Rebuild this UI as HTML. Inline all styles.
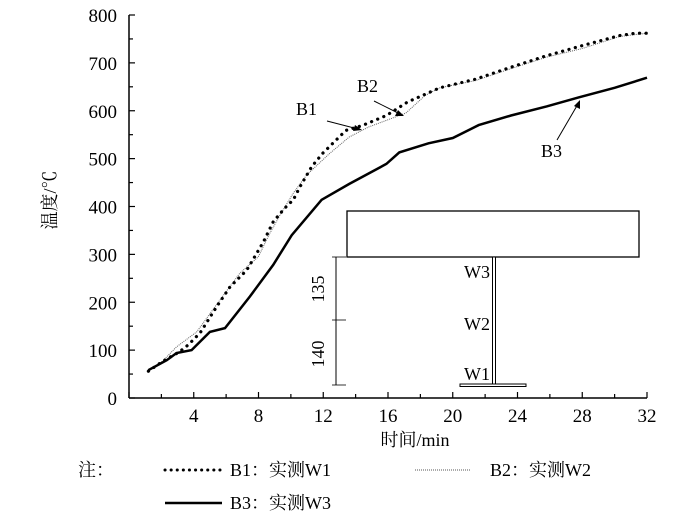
<!DOCTYPE html>
<html><head><meta charset="utf-8"><style>
body{margin:0;background:#fff}
svg text{font-family:"Liberation Serif","Noto Serif CJK SC",serif;fill:#000}
</style></head><body>
<svg width="700" height="523" viewBox="0 0 700 523">
<g id="axes"></g>
<g id="series"></g>
<g id="inset">
  <rect x="347" y="211" width="292" height="46" fill="#fff" stroke="#000" stroke-width="1.3"/>
  <rect x="492.5" y="257" width="3" height="127" fill="#fff" stroke="#000" stroke-width="1"/>
  <rect x="460" y="384" width="66" height="2.5" fill="#fff" stroke="#000" stroke-width="1"/>
  <line x1="336" y1="257" x2="336" y2="385" stroke="#000" stroke-width="1"/>
  <line x1="332" y1="257" x2="346" y2="257" stroke="#000" stroke-width="0.8"/>
  <line x1="332" y1="320" x2="346" y2="320" stroke="#000" stroke-width="0.8"/>
  <line x1="332" y1="385" x2="346" y2="385" stroke="#000" stroke-width="0.8"/>
  <text x="0" y="0" font-size="18" text-anchor="middle" transform="translate(324,289) rotate(-90)">135</text>
  <text x="0" y="0" font-size="18" text-anchor="middle" transform="translate(324,354) rotate(-90)">140</text>
  <text x="490" y="278" font-size="18" text-anchor="end">W3</text>
  <text x="490" y="330" font-size="18" text-anchor="end">W2</text>
  <text x="490" y="380" font-size="18" text-anchor="end">W1</text>
</g>
<g>
  <text x="296" y="115" font-size="18">B1</text>
  <line x1="327" y1="121" x2="358" y2="129" stroke="#000" stroke-width="1"/>
  <polygon points="362,130 353,131 355,125" fill="#000"/>
  <text x="357" y="92" font-size="18">B2</text>
  <line x1="374" y1="101" x2="400" y2="114" stroke="#000" stroke-width="1"/>
  <polygon points="404,116 395,116 398,110" fill="#000"/>
  <text x="541" y="157" font-size="18">B3</text>
  <line x1="557" y1="140" x2="578" y2="104" stroke="#000" stroke-width="1"/>
  <polygon points="580,100 580,109 574,106" fill="#000"/>
</g>
<g>
  <text x="78" y="476" font-size="18">注：</text>
  <line x1="165" y1="470" x2="222" y2="470" stroke="#000" stroke-width="3" stroke-dasharray="0.1 6" stroke-linecap="round"/>
  <text x="230" y="476" font-size="18">B1：实测W1</text>
  <line x1="415" y1="470" x2="470" y2="470" stroke="#555" stroke-width="1" stroke-dasharray="1 1"/>
  <text x="490" y="476" font-size="18">B2：实测W2</text>
  <line x1="165" y1="503" x2="222" y2="503" stroke="#000" stroke-width="2.5"/>
  <text x="230" y="509" font-size="18">B3：实测W3</text>
</g>
</svg>
<script>
const xTicks=[4,8,12,16,20,24,28,32];
const yTicks=[0,100,200,300,400,500,600,700,800];
const b1T=[1.2,2.1,3.1,3.66,4.39,5.42,6.24,7.27,8.3,8.91,9.64,10.15,10.56,11.28,11.96,13.4,14.4,15.9,17.2,19.2,21.4,23.6,25.8,28,30.3,31.3,32];
const b1V=[56,77,96,111,136,191,232,267,326,368,397,414,441,483,511,559,569,590,618,648,666,691,715,736,757,762,762];
const b2T=[1.2,2.1,2.94,4.18,5.62,6.86,7.99,8.7,9.33,10.15,10.98,12.4,13.6,14.8,17.1,18.3,19.2,21.4,23.6,25.8,28,30.3,32];
const b2V=[56,78,107,138,205,261,295,344,382,428,466,511,545,566,595,632,648,663,688,712,730,755,762];
const b3T=[1.19,2.33,2.94,3.87,5.0,5.93,7.47,8.91,10.05,11.9,13.6,15.9,16.7,18.5,20,21.6,23.6,25.8,27.8,30,32];
const b3V=[58,79,94,100,138,146,212,278,340,414,447,489,513,532,543,570,590,609,628,648,669];
const NS='http://www.w3.org/2000/svg';
const X0=129,X1=647,Y0=398,Y1=15;
function sx(t){return X0+(t/32)*(X1-X0);}
function sy(v){return Y0-(v/800)*(Y0-Y1);}
function mk(tag,attrs,parent){const e=document.createElementNS(NS,tag);for(const k in attrs)e.setAttribute(k,attrs[k]);parent.appendChild(e);return e;}
const ax=document.getElementById('axes');
let l=mk('line',{x1:X0,y1:Y0,x2:X1,y2:Y0,stroke:'#000','stroke-width':1.5},ax);


l=mk('line',{x1:X0,y1:Y0,x2:X0,y2:Y1,stroke:'#000','stroke-width':1.5},ax);


for(let t=0;t<=32;t+=2){mk('line',{x1:sx(t),y1:Y0,x2:sx(t),y2:Y0-(t%4==0?6:4),stroke:'#000','stroke-width':1.2},ax);}
for(let v=0;v<=800;v+=50){mk('line',{x1:X0,y1:sy(v),x2:X0+(v%100==0?6:4),y2:sy(v),stroke:'#000','stroke-width':1.2},ax);}
xTicks.forEach(t=>{const e=mk('text',{x:sx(t),y:422,'font-size':19,'text-anchor':'middle'},ax);e.textContent=t;

});
yTicks.forEach(v=>{const e=mk('text',{x:117,y:sy(v)+7,'font-size':19,'text-anchor':'end'},ax);e.textContent=v;

});
let tt=mk('text',{x:415,y:446,'font-size':18,'text-anchor':'middle'},ax);tt.textContent='时间/min';


tt=mk('text',{x:0,y:0,'font-size':18,'text-anchor':'middle',transform:'translate(56,200) rotate(-90)'},ax);tt.textContent='温度/℃';


const sg=document.getElementById('series');
function pts(T,V){return T.map((t,i)=>sx(t).toFixed(1)+','+sy(V[i]).toFixed(1)).join(' ');}
let p=mk('polyline',{points:pts(b2T,b2V),fill:'none',stroke:'#666','stroke-width':1,'stroke-dasharray':'1 1'},sg);


p=mk('polyline',{points:pts(b1T,b1V),fill:'none',stroke:'#000','stroke-width':3.2,'stroke-dasharray':'0.1 6.5','stroke-linecap':'round'},sg);


p=mk('polyline',{points:pts(b3T,b3V),fill:'none',stroke:'#000','stroke-width':2.5},sg);


</script>
</body></html>
